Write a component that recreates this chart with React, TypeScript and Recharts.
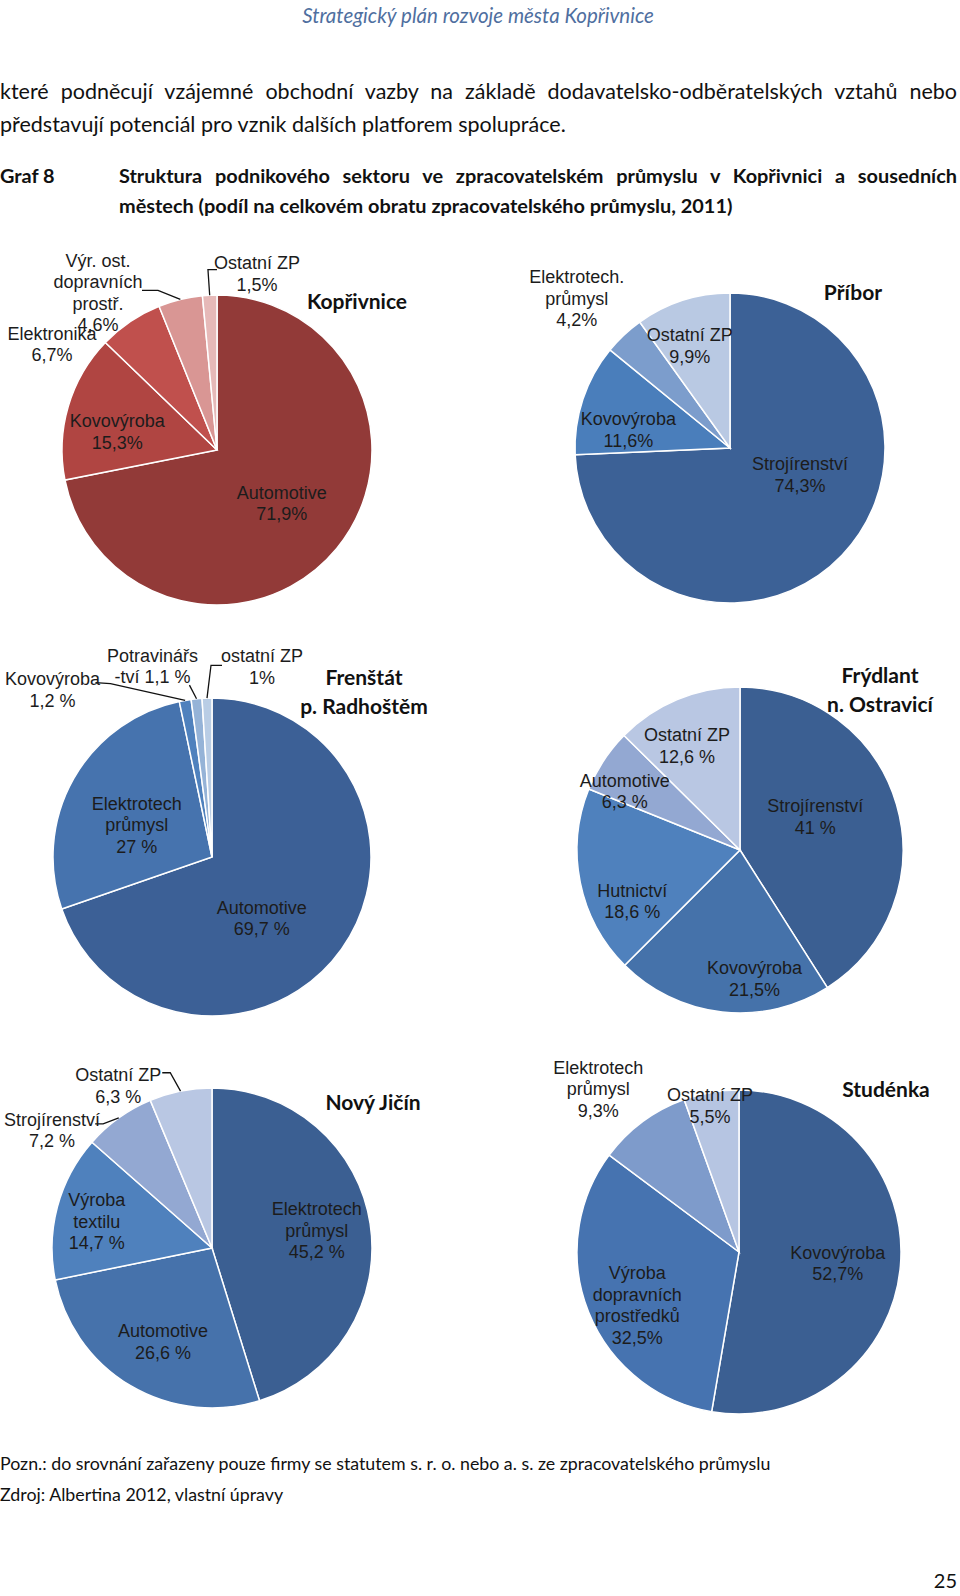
import { PieChart, Pie, Cell } from 'recharts'

// Kopřivnice
const kopNames = ['Automotive', 'Kovovýroba', 'Elektronika', 'Výr. ost. dopravních prostř.', 'Ostatní ZP']
const kopValues = [71.9, 15.3, 6.7, 4.6, 1.5]
const kopLabels = [['Automotive', '71,9%'], ['Kovovýroba', '15,3%'], ['Elektronika', '6,7%'], ['Výr. ost.', 'dopravních', 'prostř.', '4,6%'], ['Ostatní ZP', '1,5%']]

// Příbor
const priNames = ['Strojírenství', 'Kovovýroba', 'Elektrotech. průmysl', 'Ostatní ZP']
const priValues = [74.3, 11.6, 4.2, 9.9]
const priLabels = [['Strojírenství', '74,3%'], ['Kovovýroba', '11,6%'], ['Elektrotech.', 'průmysl', '4,2%'], ['Ostatní ZP', '9,9%']]

// Frenštát p. Radhoštěm
const freNames = ['Automotive', 'Elektrotech průmysl', 'Kovovýroba', 'Potravinářství', 'ostatní ZP']
const freValues = [69.7, 27, 1.2, 1.1, 1]
const freLabels = [['Automotive', '69,7 %'], ['Elektrotech', 'průmysl', '27 %'], ['Kovovýroba', '1,2 %'], ['Potravinářs', '-tví 1,1 %'], ['ostatní ZP', '1%']]

// Frýdlant n. Ostravicí
const fryNames = ['Strojírenství', 'Kovovýroba', 'Hutnictví', 'Automotive', 'Ostatní ZP']
const fryValues = [41, 21.5, 18.6, 6.3, 12.6]
const fryLabels = [['Strojírenství', '41 %'], ['Kovovýroba', '21,5%'], ['Hutnictví', '18,6 %'], ['Automotive', '6,3 %'], ['Ostatní ZP', '12,6 %']]

// Nový Jičín
const njcNames = ['Elektrotech průmysl', 'Automotive', 'Výroba textilu', 'Strojírenství', 'Ostatní ZP']
const njcValues = [45.2, 26.6, 14.7, 7.2, 6.3]
const njcLabels = [['Elektrotech', 'průmysl', '45,2 %'], ['Automotive', '26,6 %'], ['Výroba', 'textilu', '14,7 %'], ['Strojírenství', '7,2 %'], ['Ostatní ZP', '6,3 %']]

// Studénka
const stuNames = ['Kovovýroba', 'Výroba dopravních prostředků', 'Elektrotech průmysl', 'Ostatní ZP']
const stuValues = [52.7, 32.5, 9.3, 5.5]
const stuLabels = [['Kovovýroba', '52,7%'], ['Výroba', 'dopravních', 'prostředků', '32,5%'], ['Elektrotech', 'průmysl', '9,3%'], ['Ostatní ZP', '5,5%']]

type Place = { f: number; dx: number; dy: number; lead?: number[][] }

const RAD = Math.PI / 180
const LABEL_FONT = "'Liberation Sans Narrow', 'Arial Narrow', 'Liberation Sans', Arial, sans-serif"
const LH = 21.5

function makeLabel(lines: string[][], place: Place[]) {
  return (p: any) => {
    const { cx, cy, midAngle, outerRadius, index } = p
    const pl = place[index]
    const c = Math.cos(-midAngle * RAD)
    const s = Math.sin(-midAngle * RAD)
    const x = cx + outerRadius * pl.f * c + pl.dx
    const y = cy + outerRadius * pl.f * s + pl.dy
    const ls = lines[index]
    const y0 = y - ((ls.length - 1) * LH) / 2
    let leader = null
    if (pl.lead) {
      const pts = [[cx + outerRadius * c, cy + outerRadius * s], ...pl.lead.map(([a, b]) => [x + a, y + b])]
      leader = <polyline points={pts.map((q) => q.join(',')).join(' ')} fill="none" stroke="#111" strokeWidth={1.3} />
    }
    return (
      <g key={`lbl-${index}`}>
        {leader}
        {ls.map((t, i) => (
          <text key={i} x={x} y={y0 + i * LH + 6.5} textAnchor="middle" fontFamily={LABEL_FONT} fontSize={18} fill="#1c1c1c">
            {t}
          </text>
        ))}
      </g>
    )
  }
}

const pies = [
  {
    key: 'kop', names: kopNames, values: kopValues, labels: kopLabels, cx: 217, cy: 450, r: 155,
    colors: ['#923a38', '#b04542', '#c0504d', '#d99694', '#e6b9b8'],
    place: [
      { f: 0.54, dx: 0, dy: 0 },
      { f: 0.65, dx: -3, dy: 10 },
      { f: 1.2, dx: -61, dy: 48 },
      { f: 1.2, dx: -75, dy: 23, lead: [[60, -2], [44, -2]] },
      { f: 1.1, dx: 48, dy: -6, lead: [[-49, -4], [-40, -4]] },
    ],
  },
  {
    key: 'pri', names: priNames, values: priValues, labels: priLabels, cx: 730, cy: 448, r: 155,
    colors: ['#3c6196', '#4a7ebb', '#7c9dcc', '#b9c9e3'],
    place: [
      { f: 0.5, dx: 14, dy: -27 },
      { f: 0.65, dx: -6, dy: 13 },
      { f: 1.2, dx: -26, dy: -14 },
      { f: 0.7, dx: -7, dy: 1 },
    ],
  },
  {
    key: 'fre', names: freNames, values: freValues, labels: freLabels, cx: 212, cy: 857, r: 159,
    colors: ['#3c6096', '#4673ae', '#4f81bd', '#95b3d7', '#b9cde5'],
    place: [
      { f: 0.5, dx: -15, dy: 15 },
      { f: 0.5, dx: -6, dy: 7 },
      { f: 1.1, dx: -130, dy: 5, lead: [[58, -6], [43, -7]] },
      { f: 1.2, dx: -41, dy: -1, lead: [[37, 19]] },
      { f: 1.2, dx: 56, dy: 0, lead: [[-51, -1], [-40, -1]] },
    ],
  },
  {
    key: 'fry', names: fryNames, values: fryValues, labels: fryLabels, cx: 740, cy: 850, r: 163,
    colors: ['#3b5f92', '#4572aa', '#4f81bd', '#93a8d2', '#b9c7e3'],
    place: [
      { f: 0.5, dx: -3, dy: -11 },
      { f: 0.75, dx: 28, dy: 7 },
      { f: 0.65, dx: -4, dy: 30 },
      { f: 0.75, dx: -13, dy: 8 },
      { f: 0.7, dx: -9, dy: 1 },
    ],
  },
  {
    key: 'njc', names: njcNames, values: njcValues, labels: njcLabels, cx: 212, cy: 1248, r: 160,
    colors: ['#3b5f92', '#4672ab', '#4f81bd', '#93a8d2', '#b9c7e3'],
    place: [
      { f: 0.65, dx: 2, dy: -2 },
      { f: 0.65, dx: 4, dy: 4 },
      { f: 0.7, dx: -7, dy: 2 },
      { f: 1.2, dx: -48, dy: 38, lead: [[51, -6], [43, -6]] },
      { f: 1.2, dx: -56, dy: 26, lead: [[52, -13], [44, -13]] },
    ],
  },
  {
    key: 'stu', names: stuNames, values: stuValues, labels: stuLabels, cx: 739, cy: 1252, r: 162,
    colors: ['#3b5f92', '#4673b0', '#7e9bcb', '#b6c5e2'],
    place: [
      { f: 0.6, dx: 2, dy: 3 },
      { f: 0.65, dx: -4, dy: 14 },
      { f: 1.2, dx: -25, dy: -7 },
      { f: 0.9, dx: -4, dy: -3 },
    ],
  },
]

const titles = [
  { lines: ['Kopřivnice'], x: 357, y: 301 },
  { lines: ['Příbor'], x: 853, y: 292 },
  { lines: ['Frenštát', 'p. Radhoštěm'], x: 364, y: 677 },
  { lines: ['Frýdlant', 'n. Ostravicí'], x: 880, y: 675 },
  { lines: ['Nový Jičín'], x: 373, y: 1102 },
  { lines: ['Studénka'], x: 886, y: 1089 },
]

const PAGE_FONT = "Lato, 'Open Sans', sans-serif"

function Line({ text, x, y, w, size, bold, justify, color, italic, align }: any) {
  return (
    <div
      style={{
        position: 'absolute',
        left: x,
        top: y - size * 0.65,
        width: w,
        height: size * 1.3,
        lineHeight: `${size * 1.3}px`,
        fontFamily: PAGE_FONT,
        fontSize: size,
        fontWeight: bold ? 700 : 400,
        fontStyle: italic ? 'italic' : 'normal',
        color: color || '#111',
        textAlign: justify ? 'justify' : align || 'left',
        textAlignLast: justify ? 'justify' : align || 'left',
        overflow: 'hidden',
      }}
    >
      {text}
    </div>
  )
}

export default function App() {
  return (
    <div style={{ position: 'absolute', left: 0, top: 0, width: 960, height: 1596, background: '#fff', overflow: 'hidden' }}>
      <Line text="Strategický plán rozvoje města Kopřivnice" x={0} y={15} w={956} size={20.5} italic color="#4f6fa0" align="center" />
      <Line text="které podněcují vzájemné obchodní vazby na základě dodavatelsko-odběratelských vztahů nebo" x={0} y={92} w={957} size={21.5} justify />
      <Line text="představují potenciál pro vznik dalších platforem spolupráce." x={0} y={125} w={957} size={21.5} />
      <Line text="Graf 8" x={0} y={176} w={110} size={19.9} bold />
      <Line text="Struktura podnikového sektoru ve zpracovatelském průmyslu v Kopřivnici a sousedních" x={119} y={176} w={838} size={19.9} bold justify />
      <Line text="městech (podíl na celkovém obratu zpracovatelského průmyslu, 2011)" x={119} y={206} w={838} size={19.9} bold />

      <div style={{ position: 'absolute', left: 0, top: 0 }}>
        <PieChart width={960} height={1596} margin={{ top: 0, right: 0, bottom: 0, left: 0 }}>
          {pies.map((pc) => (
            <Pie
              key={pc.key}
              data={pc.names.map((n, i) => ({ name: n, value: pc.values[i] }))}
              dataKey="value"
              nameKey="name"
              cx={pc.cx}
              cy={pc.cy}
              outerRadius={pc.r}
              startAngle={90}
              endAngle={-270}
              stroke="#ffffff"
              strokeWidth={1.5}
              label={makeLabel(pc.labels, pc.place)}
              labelLine={false}
              isAnimationActive={false}
            >
              {pc.names.map((n, i) => (
                <Cell key={n} fill={pc.colors[i]} />
              ))}
            </Pie>
          ))}
        </PieChart>
      </div>

      {titles.map((t) =>
        t.lines.map((l, i) => (
          <div
            key={l}
            style={{
              position: 'absolute',
              left: t.x - 100,
              top: t.y + i * 28.5 - 14,
              width: 200,
              lineHeight: '28px',
              textAlign: 'center',
              fontFamily: PAGE_FONT,
              fontWeight: 700,
              fontSize: 21,
              color: '#111',
            }}
          >
            {l}
          </div>
        ))
      )}

      <Line text="Pozn.: do srovnání zařazeny pouze firmy se statutem s. r. o. nebo a. s. ze zpracovatelského průmyslu" x={0} y={1464} w={940} size={17.8} />
      <Line text="Zdroj: Albertina 2012, vlastní úpravy" x={0} y={1495} w={900} size={17.8} />
      <Line text="25" x={900} y={1580} w={57} size={20} align="right" />
    </div>
  )
}
